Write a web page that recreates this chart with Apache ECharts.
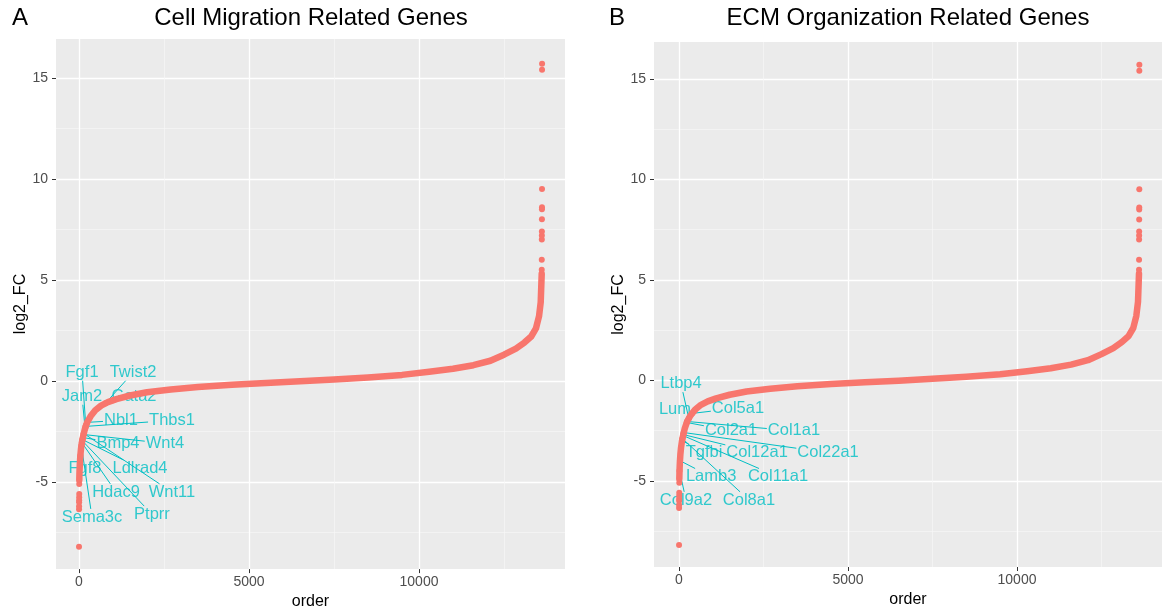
<!DOCTYPE html>
<html>
<head>
<meta charset="utf-8">
<title>log2 FC by order</title>
<script src="https://cdn.jsdelivr.net/npm/echarts@6/dist/echarts.min.js"></script>
<style>
  html, body { margin: 0; padding: 0; background: #fff; }
  #chart { width: 1162px; height: 615px; }
</style>
</head>
<body>
<div id="chart"></div>
<script>
// sorted log2 fold changes of all genes (dense part of the curve)
const curveOrder = [9, 15, 25, 40, 60, 85, 120, 170, 240, 340, 480, 650, 850, 1100, 1500, 2000,
  2700, 3500, 4500, 5500, 6500, 7500, 8500, 9500, 10300, 11000, 11600, 12100, 12500, 12850,
  13100, 13300, 13440, 13530, 13580, 13609];
const curveFC = [-4.9, -4.5, -4.1, -3.7, -3.35, -3.05, -2.75, -2.4, -2.05, -1.75, -1.45, -1.22, -1.05, -0.9, -0.72, -0.56,
  -0.42, -0.3, -0.19, -0.1, -0.02, 0.07, 0.17, 0.3, 0.45, 0.6, 0.78, 1.0, 1.3, 1.6,
  1.9, 2.2, 2.6, 3.2, 3.9, 5.3];

// isolated points at both ends
const lowOrder = [1, 2, 3, 4, 5, 6, 7, 8];
const lowFC = [-8.2, -6.35, -6.2, -6.0, -5.9, -5.75, -5.6, -5.1];
const highOrder = [13610, 13611, 13612, 13613, 13614, 13615, 13616, 13617, 13618, 13619, 13620];
const highFC = [5.5, 6.0, 7.0, 7.2, 7.4, 8.0, 8.5, 8.6, 9.5, 15.4, 15.7];

// panel A: cell migration genes
const genesA = ['Fgf1', 'Twist2', 'Jam2', 'Gata2', 'Nbl1', 'Thbs1', 'Bmp4', 'Wnt4',
  'Fgf8', 'Ldlrad4', 'Hdac9', 'Wnt11', 'Sema3c', 'Ptprr'];
const genesAOrder = [200, 780, 180, 1000, 240, 195, 115, 135, 40, 100, 85, 140, 70, 95];
const genesAFC = [-2.2, -1.1, -2.35, -0.95, -2.05, -2.25, -2.8, -2.65, -3.7, -2.9, -3.05, -2.6, -3.2, -2.95];

// panel B: ECM organization genes
const genesB = ['Ltbp4', 'Lum', 'Col5a1', 'Col2a1', 'Col1a1', 'Tgfbi', 'Col12a1', 'Col22a1',
  'Lamb3', 'Col11a1', 'Col9a2', 'Col8a1'];
const genesBOrder = [290, 460, 380, 230, 240, 90, 125, 140, 28, 120, 15, 100];
const genesBFC = [-1.9, -1.5, -1.65, -2.1, -2.05, -3.0, -2.7, -2.6, -4.0, -2.75, -4.5, -2.9];

const xTicks = [0, 5000, 10000];
const xMinor = [2500, 7500, 12500];
const yTicks = [-5, 0, 5, 10, 15];
const yMinor = [-7.5, -2.5, 2.5, 7.5, 12.5];

// where the repelled labels sit (data units)
const labelPosA = [[90, 0.42], [1590, 0.42], [90, -0.77], [1620, -0.77], [1235, -1.95], [2735, -1.95],
  [1147, -3.09], [2530, -3.09], [175, -4.32], [1795, -4.32], [1090, -5.5], [2735, -5.5],
  [382, -6.74], [2147, -6.6]];
const labelPosB = [[60, -0.18], [-120, -1.43], [1745, -1.38], [1540, -2.52], [3400, -2.52],
  [740, -3.6], [2310, -3.6], [4410, -3.6], [950, -4.8], [2930, -4.8], [207, -5.96], [2070, -5.96]];

const pointColor = '#F8766D';
const labelColor = '#00BFC4';
const font = '"Liberation Sans", Arial, sans-serif';
const labelSize = 16.5;

const measure = document.createElement('canvas').getContext('2d');
measure.font = labelSize + 'px "Liberation Sans"';
const textW = s => measure.measureText(s).width;

const zip = (xs, ys) => xs.map((x, i) => [x, ys[i]]);

// line from the label box edge to the gene's point
function segmentItem(params, api) {
  const c = api.coord([api.value(0), api.value(1)]);
  const p = api.coord([api.value(2), api.value(3)]);
  const hw = api.value(4) / 2 + 1;
  const hh = labelSize * 0.5;
  const dx = p[0] - c[0], dy = p[1] - c[1];
  if (Math.abs(dx) <= hw && Math.abs(dy) <= hh) return { type: 'group', children: [] };
  const t = Math.min(dx ? hw / Math.abs(dx) : Infinity, dy ? hh / Math.abs(dy) : Infinity);
  return {
    type: 'line',
    shape: { x1: c[0] + dx * t, y1: c[1] + dy * t, x2: p[0], y2: p[1] },
    style: { stroke: labelColor, lineWidth: 1 }
  };
}

const panels = [
  { title: 'Cell Migration Related Genes', tag: 'A', genes: genesA, order: genesAOrder, fc: genesAFC, pos: labelPosA,
    grid: { left: 56, top: 39, width: 509, height: 531 }, x: [-676, 14294], y: [-9.31, 16.92], tagX: 20, titleX: 311 },
  { title: 'ECM Organization Related Genes', tag: 'B', genes: genesB, order: genesBOrder, fc: genesBFC, pos: labelPosB,
    grid: { left: 654, top: 42, width: 508, height: 525 }, x: [-740, 14290], y: [-9.29, 16.83], tagX: 617, titleX: 908 }
];

const grid = [], xAxis = [], yAxis = [], series = [], graphic = [];
const plain = v => String(v);

panels.forEach((pn, i) => {
  grid.push(Object.assign({ show: true, backgroundColor: '#EBEBEB', borderWidth: 0 }, pn.grid));

  // major axes
  xAxis.push({
    gridIndex: i, type: 'value', min: pn.x[0], max: pn.x[1], position: 'bottom',
    name: 'order', nameLocation: 'middle', nameGap: 22,
    nameTextStyle: { color: '#000', fontSize: 16, fontFamily: font },
    axisLine: { show: false, onZero: false },
    axisTick: { show: true, length: 4, customValues: xTicks, lineStyle: { color: '#333' } },
    axisLabel: { customValues: xTicks, formatter: plain, color: '#4D4D4D', fontSize: 14, margin: 6, fontFamily: font },
    splitLine: { show: true, lineStyle: { color: '#fff', width: 1.3 } }
  });
  yAxis.push({
    gridIndex: i, type: 'value', min: pn.y[0], max: pn.y[1], position: 'left',
    name: 'log2_FC', nameLocation: 'middle', nameGap: 26,
    nameTextStyle: { color: '#000', fontSize: 16, fontFamily: font },
    axisLine: { show: false, onZero: false },
    axisTick: { show: true, length: 4, customValues: yTicks, lineStyle: { color: '#333' } },
    axisLabel: { customValues: yTicks, formatter: plain, color: '#4D4D4D', fontSize: 14, margin: 8, fontFamily: font },
    splitLine: { show: true, lineStyle: { color: '#fff', width: 1.3 } }
  });
  // minor grid lines
  xAxis.push({
    gridIndex: i, type: 'value', min: pn.x[0], max: pn.x[1], position: 'bottom',
    axisLine: { show: false, onZero: false }, axisLabel: { show: false },
    axisTick: { show: false, customValues: xMinor },
    splitLine: { show: true, lineStyle: { color: '#F7F7F7', width: 0.7 } }
  });
  yAxis.push({
    gridIndex: i, type: 'value', min: pn.y[0], max: pn.y[1], position: 'left',
    axisLine: { show: false, onZero: false }, axisLabel: { show: false },
    axisTick: { show: false, customValues: yMinor },
    splitLine: { show: true, lineStyle: { color: '#F7F7F7', width: 0.7 } }
  });

  const xi = i * 2, yi = i * 2;
  // gene names sit under the segments and the points, as in the original
  series.push({
    type: 'scatter', xAxisIndex: xi, yAxisIndex: yi, symbolSize: 1, z: 1,
    itemStyle: { color: 'rgba(0,0,0,0)' },
    data: pn.genes.map((g, k) => ({ name: g, value: pn.pos[k] })),
    label: { show: true, position: 'inside', formatter: '{b}', color: labelColor,
      fontSize: labelSize, fontFamily: font }
  });
  series.push({
    type: 'custom', xAxisIndex: xi, yAxisIndex: yi, renderItem: segmentItem, z: 2,
    data: pn.genes.map((g, k) => [pn.pos[k][0], pn.pos[k][1], pn.order[k], pn.fc[k], textW(g)]),
    encode: { x: [0, 2], y: [1, 3] }, silent: true
  });
  series.push({
    type: 'line', xAxisIndex: xi, yAxisIndex: yi, data: zip(curveOrder, curveFC), z: 3,
    symbol: 'none', silent: true,
    lineStyle: { color: pointColor, width: 6.5, cap: 'round', join: 'round' }
  });
  series.push({
    type: 'scatter', xAxisIndex: xi, yAxisIndex: yi, symbolSize: 6, z: 3,
    data: zip(lowOrder, lowFC).concat(zip(highOrder, highFC), zip(pn.order, pn.fc)),
    itemStyle: { color: pointColor, opacity: 1 }
  });

  graphic.push({ type: 'text', x: pn.tagX, y: 18,
    style: { text: pn.tag, font: '24px ' + font, fill: '#000', textAlign: 'center', textVerticalAlign: 'middle' } });
  graphic.push({ type: 'text', x: pn.titleX, y: 18,
    style: { text: pn.title, font: '24px ' + font, fill: '#000', textAlign: 'center', textVerticalAlign: 'middle' } });
});

const chart = echarts.init(document.getElementById('chart'));
chart.setOption({ animation: false, backgroundColor: '#fff', grid, xAxis, yAxis, series, graphic });
</script>
</body>
</html>
